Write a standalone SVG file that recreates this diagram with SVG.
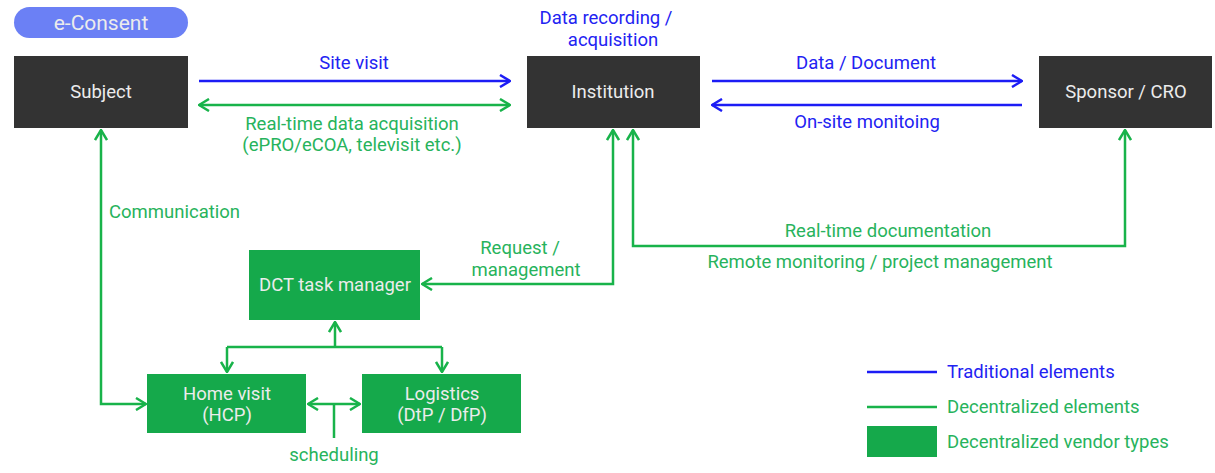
<svg xmlns="http://www.w3.org/2000/svg" width="1215" height="473" viewBox="0 0 1215 473">
  <style>
    .node-dark { fill: #333333; }
    .node-green { fill: #15a94b; }
    .pill { fill: #6b80f5; }
    .ntext { font-family: Roboto, "Liberation Sans", sans-serif; font-size: 18.5px; fill: #ececec; text-anchor: middle; }
    .lbl { font-family: Roboto, "Liberation Sans", sans-serif; font-size: 18.5px; text-anchor: middle; }
    .start { text-anchor: start; }
    .blue-t { fill: #2222f2; }
    .green-t { fill: #27b35c; }
    .blue-l { stroke: #1c1cf5; stroke-width: 2.5; fill: none; }
    .green-l { stroke: #18b34a; stroke-width: 2.5; fill: none; }
  </style>
  <defs>
    <marker id="arrowBlue" viewBox="0 0 12 14" refX="11" refY="7" markerWidth="12" markerHeight="14" markerUnits="userSpaceOnUse" orient="auto-start-reverse">
      <path d="M1,1 L11,7 L1,13" fill="none" stroke="#1c1cf5" stroke-width="2.5"/>
    </marker>
    <marker id="arrowGreen" viewBox="0 0 12 14" refX="11" refY="7" markerWidth="12" markerHeight="14" markerUnits="userSpaceOnUse" orient="auto-start-reverse">
      <path d="M1,1 L11,7 L1,13" fill="none" stroke="#18b34a" stroke-width="2.5"/>
    </marker>
  </defs>

  <rect width="1215" height="473" fill="#ffffff"/>

  <!-- e-Consent tag -->
  <g id="e-consent">
    <rect class="pill" x="14" y="7" width="174" height="31" rx="15.5"/>
    <text class="ntext" x="101" y="30" style="font-size:21px">e-Consent</text>
  </g>

  <!-- main parties -->
  <g id="subject">
    <rect class="node-dark" x="14" y="56" width="174" height="72"/>
    <text class="ntext" x="101" y="98">Subject</text>
  </g>
  <g id="institution">
    <rect class="node-dark" x="527" y="56" width="173" height="72"/>
    <text class="ntext" x="613" y="98">Institution</text>
  </g>
  <g id="sponsor">
    <rect class="node-dark" x="1039" y="56" width="173" height="72"/>
    <text class="ntext" x="1126" y="98">Sponsor / CRO</text>
  </g>

  <!-- decentralized vendors -->
  <g id="dct-task-manager">
    <rect class="node-green" x="249" y="250" width="171" height="70"/>
    <text class="ntext" x="335" y="291">DCT task manager</text>
  </g>
  <g id="home-visit">
    <rect class="node-green" x="147" y="374" width="159" height="59"/>
    <text class="ntext" x="227" y="400">Home visit</text>
    <text class="ntext" x="227" y="421">(HCP)</text>
  </g>
  <g id="logistics">
    <rect class="node-green" x="362" y="374" width="159" height="59"/>
    <text class="ntext" x="442" y="400">Logistics</text>
    <text class="ntext" x="442" y="421">(DtP / DfP)</text>
  </g>

  <!-- connectors -->
  <g id="connectors">
    <path class="blue-l" d="M199,81 H510" marker-end="url(#arrowBlue)"/>
    <path class="green-l" d="M199,105 H510" marker-start="url(#arrowGreen)" marker-end="url(#arrowGreen)"/>
    <path class="blue-l" d="M712,81 H1022" marker-end="url(#arrowBlue)"/>
    <path class="blue-l" d="M1022,105 H712" marker-end="url(#arrowBlue)"/>
    <path class="green-l" d="M101,130 V404 H146" marker-start="url(#arrowGreen)" marker-end="url(#arrowGreen)"/>
    <path class="green-l" d="M613,130 V284 H422" marker-start="url(#arrowGreen)" marker-end="url(#arrowGreen)"/>
    <path class="green-l" d="M633,130 V246 H1125 V130" marker-start="url(#arrowGreen)" marker-end="url(#arrowGreen)"/>
    <path class="green-l" d="M335,347 V322" marker-end="url(#arrowGreen)"/>
    <path class="green-l" d="M227,347 H442"/>
    <path class="green-l" d="M227,347 V372" marker-end="url(#arrowGreen)"/>
    <path class="green-l" d="M442,347 V372" marker-end="url(#arrowGreen)"/>
    <path class="green-l" d="M308,404 H360" marker-start="url(#arrowGreen)" marker-end="url(#arrowGreen)"/>
    <path class="green-l" d="M334,404 V438"/>
  </g>

  <!-- connector labels -->
  <g id="labels">
    <text class="lbl blue-t" x="606" y="24">Data recording /</text>
    <text class="lbl blue-t" x="613" y="46">acquisition</text>
    <text class="lbl blue-t" x="354" y="69">Site visit</text>
    <text class="lbl green-t" x="352" y="130">Real-time data acquisition</text>
    <text class="lbl green-t" x="352" y="151">(ePRO/eCOA, televisit etc.)</text>
    <text class="lbl blue-t" x="866" y="69">Data / Document</text>
    <text class="lbl blue-t" x="867" y="128">On-site monitoing</text>
    <text class="lbl green-t start" x="109" y="218">Communication</text>
    <text class="lbl green-t" x="520" y="254">Request /</text>
    <text class="lbl green-t" x="526" y="276">management</text>
    <text class="lbl green-t" x="888" y="237">Real-time documentation</text>
    <text class="lbl green-t" x="880" y="268">Remote monitoring / project management</text>
    <text class="lbl green-t" x="334" y="461">scheduling</text>
  </g>

  <!-- legend -->
  <g id="legend">
    <line x1="867" y1="372" x2="937" y2="372" class="blue-l"/>
    <text class="lbl blue-t start" x="947" y="378">Traditional elements</text>
    <line x1="867" y1="407" x2="937" y2="407" class="green-l"/>
    <text class="lbl green-t start" x="947" y="413">Decentralized elements</text>
    <rect class="node-green" x="867" y="426" width="70" height="31"/>
    <text class="lbl green-t start" x="947" y="448">Decentralized vendor types</text>
  </g>
</svg>
